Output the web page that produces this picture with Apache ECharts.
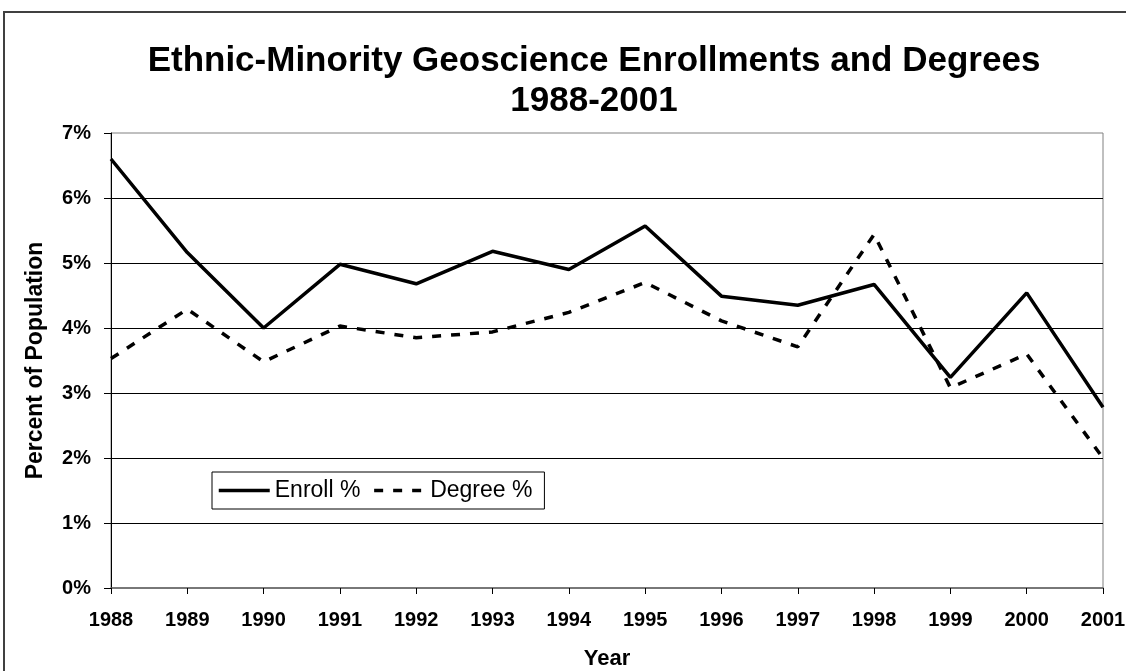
<!DOCTYPE html>
<html>
<head>
<meta charset="utf-8">
<script src="https://cdn.jsdelivr.net/npm/echarts@6/dist/echarts.min.js"></script>
<style>
  html, body { margin: 0; padding: 0; background: #fff; }
  #chart { width: 1126px; height: 671px; }
</style>
</head>
<body>
<div id="chart"></div>
<script>
// Datos
const years = ["1988", "1989", "1990", "1991", "1992", "1993", "1994",
  "1995", "1996", "1997", "1998", "1999", "2000", "2001"];
const enrollPct = [6.6, 5.16, 4.0, 4.98, 4.68, 5.18, 4.9,
  5.57, 4.49, 4.35, 4.67, 3.24, 4.54, 2.78];
const degreePct = [3.53, 4.29, 3.48, 4.03, 3.85, 3.94, 4.24,
  4.7, 4.11, 3.71, 5.44, 3.08, 3.6, 2.0];

const font = "Arial, 'Liberation Sans', sans-serif";

const chart = echarts.init(document.getElementById("chart"), null, { renderer: "canvas" });

const option = {
  animation: false,
  backgroundColor: "#fff",
  textStyle: { fontFamily: font },
  title: {
    text: "Ethnic-Minority Geoscience Enrollments and Degrees\n1988-2001",
    left: 589,
    top: 36,
    textAlign: "center",
    textStyle: { fontFamily: font, fontSize: 35, fontWeight: "bold", color: "#000", lineHeight: 40 },
  },
  // marco exterior del gráfico
  graphic: [
    {
      type: "rect",
      shape: { x: 4, y: 12, width: 1140, height: 700 },
      style: { fill: null, stroke: "#404040", lineWidth: 2 },
      silent: true,
    },
  ],
  legend: {
    left: 212,
    top: 472,
    orient: "horizontal",
    padding: [7, 12, 7, 5],
    itemGap: 12,
    itemWidth: 51,
    itemHeight: 14,
    borderColor: "#000",
    borderWidth: 1,
    backgroundColor: "#fff",
    itemStyle: { opacity: 0 },
    lineStyle: { width: 3.5 },
    textStyle: { fontFamily: font, fontSize: 23, color: "#000" },
    data: ["Enroll %", "Degree %"],
  },
  grid: {
    left: 111,
    right: 23,
    top: 133,
    bottom: 83,
    outerBoundsMode: "none",
    show: true,
    borderColor: "#808080",
    borderWidth: 1,
  },
  xAxis: {
    type: "category",
    data: years,
    boundaryGap: false,
    name: "Year",
    nameLocation: "middle",
    nameGap: 60,
    nameTextStyle: { fontFamily: font, fontSize: 22, fontWeight: "bold", color: "#000" },
    axisLine: { lineStyle: { color: "#606060", width: 1.5 } },
    axisTick: { show: true, length: 6, alignWithLabel: true, lineStyle: { color: "#000" } },
    axisLabel: { fontFamily: font, fontSize: 20, fontWeight: "bold", color: "#000", margin: 22 },
    splitLine: { show: false },
  },
  yAxis: {
    type: "value",
    min: 0,
    max: 7,
    interval: 1,
    name: "Percent of Population",
    nameLocation: "middle",
    nameGap: 64,
    nameTextStyle: { fontFamily: font, fontSize: 23, fontWeight: "bold", color: "#000" },
    axisLine: { show: true, lineStyle: { color: "#000", width: 1 } },
    axisTick: { show: true, length: 7, lineStyle: { color: "#000" } },
    axisLabel: { fontFamily: font, fontSize: 20, fontWeight: "bold", color: "#000", margin: 20, formatter: "{value}%" },
    splitLine: { show: true, showMinLine: false, showMaxLine: false, lineStyle: { color: "#000", width: 1 } },
  },
  series: [
    {
      name: "Enroll %",
      type: "line",
      data: enrollPct,
      symbol: "none",
      lineStyle: { color: "#000", width: 3.5, type: "solid" },
      itemStyle: { color: "#000" },
    },
    {
      name: "Degree %",
      type: "line",
      data: degreePct,
      symbol: "none",
      lineStyle: { color: "#000", width: 3.5, type: [9, 10] },
      itemStyle: { color: "#000" },
    },
  ],
};

chart.setOption(option);
</script>
</body>
</html>
